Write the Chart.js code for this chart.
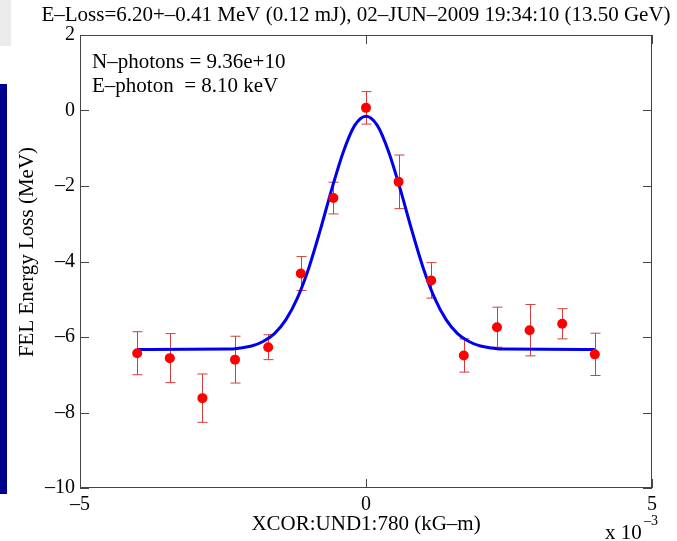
<!DOCTYPE html>
<html>
<head>
<meta charset="utf-8">
<script src="https://cdn.jsdelivr.net/npm/chart.js@4/dist/chart.umd.min.js"></script>
<style>
  html, body { margin: 0; padding: 0; background: #fff; }
  #wrap { position: relative; width: 677px; height: 541px; }
  #greyBox { position: absolute; left: 0; top: 0; width: 11px; height: 46px; background: #ebebeb; }
  #blueBar { position: absolute; left: 0; top: 84px; width: 7px; height: 410px; background: #00008f; }
</style>
</head>
<body>
<div id="wrap">
  <canvas id="plot" width="677" height="541"></canvas>
  <div id="greyBox"></div>
  <div id="blueBar"></div>
</div>
<script>
// measured points (x in units of 1e-3 kG-m)
const corrX = [-4, -3.43, -2.86, -2.29, -1.71, -1.14, -0.57, 0, 0.57, 1.14, 1.71, 2.29, 2.86, 3.43, 4];
const lossY = [-6.43, -6.56, -7.62, -6.60, -6.27, -4.32, -2.32, 0.07, -1.89, -4.50, -6.49, -5.74, -5.82, -5.65, -6.46];
const lossErr = [0.57, 0.65, 0.64, 0.62, 0.33, 0.45, 0.42, 0.43, 0.71, 0.47, 0.44, 0.53, 0.68, 0.40, 0.56];

// fitted curve
const fitX = [-4, -2.4, -2.2, -2.0, -1.8, -1.6, -1.4, -1.2, -1.0, -0.8, -0.6, -0.4, -0.2, 0, 0.2, 0.4, 0.6, 0.8, 1.0, 1.2, 1.4, 1.6, 1.8, 2.0, 2.2, 2.4, 4];
const fitY = [-6.33, -6.32, -6.29, -6.24, -6.12, -5.91, -5.54, -4.97, -4.17, -3.17, -2.09, -1.11, -0.40, -0.15, -0.40, -1.11, -2.09, -3.17, -4.17, -4.97, -5.54, -5.91, -6.12, -6.24, -6.29, -6.32, -6.33];

const xTicks = [-5, 0, 5];
const yTicks = [-10, -8, -6, -4, -2, 0, 2];

const titleText = 'E\u2013Loss=6.20+\u20130.41 MeV (0.12 mJ), 02\u2013JUN\u20132009 19:34:10 (13.50 GeV)';
const infoLines = ['N\u2013photons = 9.36e+10', 'E\u2013photon  = 8.10 keV'];
const xLabel = 'XCOR:UND1:780 (kG\u2013m)';
const yLabel = 'FEL Energy Loss (MeV)';

const FONT = 'Liberation Serif, Times New Roman, serif';

let dash = v => v < 0 ? '\u2013' + Math.abs(v) : String(v);

const plotDecor = {
    id: 'plotDecor',
    beforeDatasetsDraw(chart){
        //error bars under the markers and the fit
        const ctx = chart.ctx, xs = chart.scales.x, ys = chart.scales.y;
        ctx.save();
        ctx.strokeStyle = 'rgb(214,60,60)';
        ctx.lineWidth = 1;
        for(let i = 0; i < corrX.length; i++){
            let px = Math.round(xs.getPixelForValue(corrX[i])) + 0.5;
            let top = ys.getPixelForValue(lossY[i] + lossErr[i]);
            let bot = ys.getPixelForValue(lossY[i] - lossErr[i]);
            ctx.beginPath();
            ctx.moveTo(px, top); ctx.lineTo(px, bot);
            ctx.moveTo(px - 5, top); ctx.lineTo(px + 5, top);
            ctx.moveTo(px - 5, bot); ctx.lineTo(px + 5, bot);
            ctx.stroke();
        }
        ctx.restore();
    },
    afterDraw(chart){
        const ctx = chart.ctx, a = chart.chartArea, xs = chart.scales.x, ys = chart.scales.y;
        ctx.save();
        //box with inward ticks on all sides
        ctx.strokeStyle = '#444';
        ctx.lineWidth = 1;
        ctx.strokeRect(a.left + 0.5, a.top + 0.5, a.right - a.left - 1, a.bottom - a.top - 1);
        const tl = 9;
        ctx.beginPath();
        for(let v of yTicks){
            let py = Math.round(ys.getPixelForValue(v)) + 0.5;
            ctx.moveTo(a.left, py); ctx.lineTo(a.left + tl, py);
            ctx.moveTo(a.right, py); ctx.lineTo(a.right - tl, py);
        }
        for(let v of xTicks){
            let px = Math.round(xs.getPixelForValue(v)) + 0.5;
            ctx.moveTo(px, a.bottom); ctx.lineTo(px, a.bottom - tl);
            ctx.moveTo(px, a.top); ctx.lineTo(px, a.top + tl);
        }
        ctx.stroke();

        //texts
        ctx.fillStyle = '#000';
        ctx.font = '21px ' + FONT;
        ctx.textAlign = 'center';
        ctx.textBaseline = 'alphabetic';
        ctx.fillText(titleText, 356, 21);
        ctx.fillText(xLabel, (a.left + a.right) / 2, 530);

        ctx.textAlign = 'left';
        ctx.fillText(infoLines[0], 92, 68);
        ctx.fillText(infoLines[1], 92, 92);

        ctx.fillText('x 10', 605, 539);
        ctx.font = '14px ' + FONT;
        ctx.fillText('\u20133', 644, 525);

        ctx.font = '21px ' + FONT;
        ctx.translate(27, 252);
        ctx.rotate(-Math.PI / 2);
        ctx.textAlign = 'center';
        ctx.textBaseline = 'middle';
        ctx.fillText(yLabel, 0, 0);
        ctx.restore();
    }
};

new Chart('plot', {
    type: 'scatter',
    data: {
        datasets: [{
            data: corrX.map((x, i) => ({x: x, y: lossY[i]})),
            pointRadius: 5,
            pointBackgroundColor: '#ff0000',
            pointBorderWidth: 0,
            showLine: false,
            order: 1
        }, {
            data: fitX.map((x, i) => ({x: x, y: fitY[i]})),
            showLine: true,
            borderColor: '#0000ee',
            borderWidth: 3,
            pointRadius: 0,
            cubicInterpolationMode: 'monotone',
            order: 2
        }]
    },
    options: {
        responsive: false,
        animation: false,
        layout: { padding: { top: 35, right: 25, left: 0, bottom: 0 } },
        plugins: { legend: { display: false }, tooltip: { enabled: false } },
        scales: {
            x: {
                type: 'linear', min: -5, max: 5,
                afterBuildTicks: s => { s.ticks = xTicks.map(v => ({value: v})); },
                afterFit: s => { s.height = 53; },
                grid: { display: false, drawTicks: false },
                border: { display: false },
                ticks: { padding: 5, color: '#000', font: { family: FONT, size: 20 }, callback: dash, maxRotation: 0 }
            },
            y: {
                type: 'linear', min: -10, max: 2,
                afterBuildTicks: s => { s.ticks = yTicks.map(v => ({value: v})); },
                afterFit: s => { s.width = 80; },
                grid: { display: false, drawTicks: false },
                border: { display: false },
                ticks: { padding: 5, color: '#000', font: { family: FONT, size: 20 }, callback: dash }
            }
        }
    },
    plugins: [plotDecor]
});
</script>
</body>
</html>
